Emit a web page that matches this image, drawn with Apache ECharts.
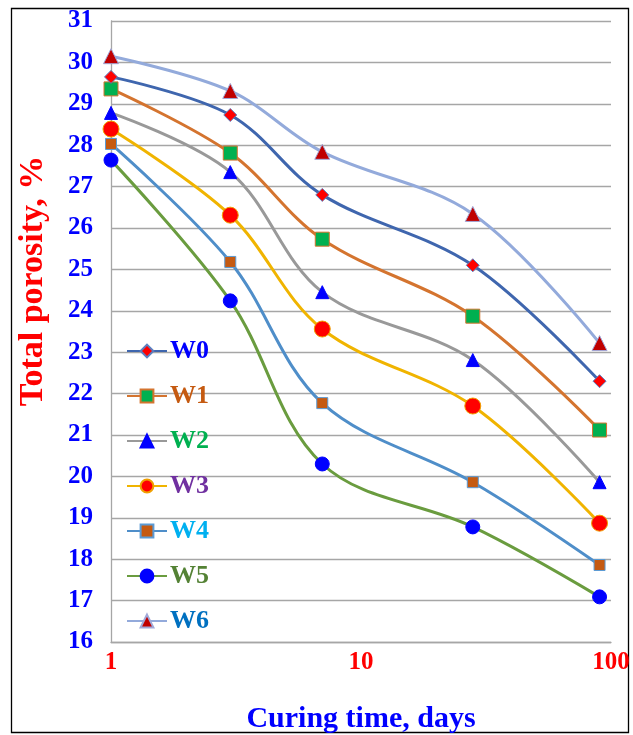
<!DOCTYPE html>
<html><head><meta charset="utf-8">
<script src="https://cdn.jsdelivr.net/npm/echarts@6/dist/echarts.min.js"></script>
<style>html,body{margin:0;padding:0;background:#fff}#c{width:633px;height:735px}</style>
</head><body><div id="c"></div>
<script>
const days = [1, 3, 7, 28, 90];
const names = ['W0','W1','W2','W3','W4','W5','W6'];
const W0 = [29.65, 28.73, 26.8, 25.1, 22.3];
const W1 = [29.36, 27.81, 25.73, 23.87, 21.12];
const W2 = [28.78, 27.35, 24.45, 22.81, 19.86];
const W3 = [28.39, 26.31, 23.56, 21.7, 18.87];
const W4 = [28.03, 25.18, 21.77, 19.86, 17.86];
const W5 = [27.64, 24.24, 20.3, 18.78, 17.09];
const W6 = [30.15, 29.31, 27.84, 26.34, 23.22];
const values = [W0, W1, W2, W3, W4, W5, W6];
const yTitle = 'Total porosity, %';
const xTitle = 'Curing time, days';

const lineColors = ['#3F66AE','#D4742F','#999999','#F0B400','#4F8EC9','#6A9C3F','#93AADB'];
const markerFill = ['#FF0000','#00B050','#0000FF','#FF0000','#C55A11','#0000FF','#C00000'];
const markerBorder = ['#5B7FC0','#D4742F','#0000FF','#F0A000','#5B9BD5','#0000FF','#A0A8D8'];
const symbols = ['diamond','rect','triangle','circle','rect','circle','triangle'];
const symSizes = [13, 14, 13, 16, 11, 14, 15];
const labelColors = ['#0000FF','#C55A11','#00B050','#7030A0','#00B0F0','#548235','#0070C0'];

const chart = echarts.init(document.getElementById('c'));
const font = '"Liberation Serif", "Times New Roman", serif';
chart.setOption({
  animation: false,
  graphic: [
    {type:'rect', shape:{x:11.5,y:8.5,width:617,height:724}, style:{fill:'none', stroke:'#000', lineWidth:1.3}, z:-1},
    {type:'text', x:33, y:281, rotation:Math.PI/2, z:10,
     style:{text:yTitle, fill:'#FF0000', font:'bold 34px ' + font, align:'center', verticalAlign:'middle'}}
  ],
  grid: {left:111, right:22, top:21, bottom:93, containLabel:false, outerBoundsMode:'none'},
  legend: {
    orient:'vertical', left:121, top:333, itemGap:19, itemWidth:40, itemHeight:16,
    data: names.map((n,i)=>({name:n, textStyle:{color:labelColors[i]}})),
    textStyle:{fontFamily:font, fontWeight:'bold', fontSize:26, padding:[0,0,0,-2]}
  },
  xAxis: {
    type:'log', logBase:10, min:1, max:100,
    name:xTitle, nameLocation:'middle', nameGap:62,
    nameTextStyle:{color:'#0000FF', fontFamily:font, fontWeight:'bold', fontSize:30},
    axisLine:{lineStyle:{color:'#A6A6A6', width:1.3}}, axisTick:{show:false},
    splitLine:{show:false},
    axisLabel:{color:'#FF0000', fontFamily:font, fontWeight:'bold', fontSize:25, margin:8}
  },
  yAxis: {
    type:'value', min:16, max:31, interval:1,
    axisLine:{show:true, lineStyle:{color:'#A6A6A6', width:1.3}}, axisTick:{show:false},
    splitLine:{lineStyle:{color:'#A6A6A6', width:1.3}},
    axisLabel:{color:'#0000FF', fontFamily:font, fontWeight:'bold', fontSize:25, margin:18}
  },
  series: names.map((n,i)=>({
    name:n, type:'line', smooth:0.35,
    data: days.map((d,j)=>[d, values[i][j]]),
    symbol:symbols[i], symbolSize:symSizes[i], showAllSymbol:true,
    lineStyle:{color:lineColors[i], width:3},
    itemStyle:{color:markerFill[i], borderColor:markerBorder[i], borderWidth:1},
    z: 10 - i
  }))
});
</script></body></html>
